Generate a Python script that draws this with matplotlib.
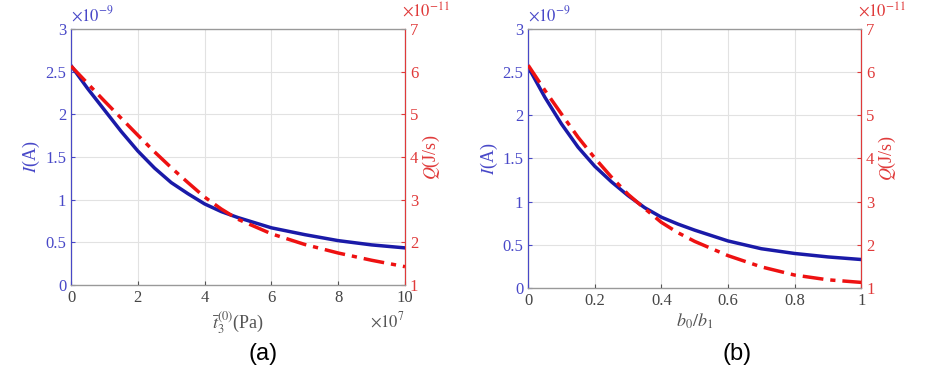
import numpy as np
import matplotlib.pyplot as plt

plt.rcParams['font.family'] = ['Liberation Serif', 'DejaVu Serif']
plt.rcParams['mathtext.fontset'] = 'stix'

# panel (a): x in 1e7 Pa, I in 1e-9 A, Q in 1e-11 J/s
xa = [0, 0.5, 1, 1.5, 2, 2.5, 3, 3.5, 4, 4.5, 5, 6, 7, 8, 9, 10]
Ia = [2.57, 2.30, 2.05, 1.80, 1.57, 1.37, 1.20, 1.07, 0.95, 0.86, 0.79,
      0.67, 0.59, 0.52, 0.47, 0.435]
Qa = [6.13, 5.72, 5.31, 4.91, 4.51, 4.12, 3.75, 3.40, 3.06, 2.78, 2.54,
      2.20, 1.95, 1.75, 1.58, 1.43]

# panel (b): x = b0/b1
xb = [0, 0.05, 0.1, 0.15, 0.2, 0.25, 0.3, 0.35, 0.4, 0.45, 0.5, 0.6, 0.7, 0.8, 0.9, 1.0]
Ib = [2.56, 2.21, 1.90, 1.63, 1.41, 1.23, 1.07, 0.93, 0.82, 0.74, 0.67,
      0.545, 0.455, 0.40, 0.36, 0.33]
Qb = [6.16, 5.58, 5.03, 4.49, 4.01, 3.57, 3.17, 2.84, 2.52, 2.28, 2.08,
      1.75, 1.49, 1.30, 1.19, 1.13]

blue = '#1a1aa8'
red = '#ee1111'
lblue = '#4848c8'
lred = '#e03a3a'

fig = plt.figure(figsize=(9.25, 3.69), dpi=100)


def panel(rect, x, I, Q, xlim, xticks, xticklabels, xlabel, tag, tagx, xexp=None):
    ax = fig.add_axes(rect)
    ax2 = ax.twinx()
    ax.plot(x, I, color=blue, lw=2.5, zorder=3)
    ax2.plot(x, Q, color=red, lw=2.5, ls=(0, (6, 2, 1.5, 2)), zorder=3)
    ax.set_xlim(xlim)
    ax.set_ylim(0, 3)
    ax2.set_ylim(1, 7)
    ax.set_xticks(xticks)
    ax.set_xticklabels(xticklabels)
    ax.set_yticks([0, 0.5, 1, 1.5, 2, 2.5, 3])
    ax.set_yticklabels(['0', '0.5', '1', '1.5', '2', '2.5', '3'])
    ax2.set_yticks([1, 2, 3, 4, 5, 6, 7])
    ax.grid(True, color='#e2e2e2', lw=0.8)
    ax.set_axisbelow(True)
    ax.tick_params(direction='in', labelsize=12, length=3)
    ax.tick_params(axis='x', colors='#555555', labelcolor='#444444')
    ax.tick_params(axis='y', colors=lblue, labelcolor=lblue)
    ax2.tick_params(direction='in', labelsize=12, length=3, colors=lred, labelcolor=lred)
    for s in ['top', 'bottom']:
        ax2.spines[s].set_color('#999999')
    ax2.spines['left'].set_color(lblue)
    ax2.spines['right'].set_color(lred)
    ax.set_ylabel('$I$(A)', color=lblue, fontsize=13, labelpad=2)
    ax2.set_ylabel('$Q$(J/s)', color=lred, fontsize=13, labelpad=2)
    ax.set_xlabel(xlabel, color='#555555', fontsize=13, labelpad=2)
    ax.text(0.0, 1.015, r'$\times10^{-9}$', transform=ax.transAxes, color=lblue,
            fontsize=12, ha='left', va='bottom')
    ax.text(0.99, 1.03, r'$\times10^{-11}$', transform=ax.transAxes, color=lred,
            fontsize=12, ha='left', va='bottom')
    if xexp:
        ax.text(1.0, -0.14, xexp, transform=ax.transAxes, color='#555555',
                fontsize=12, ha='right', va='center')
    fig.text(tagx, 0.04, tag, fontsize=17, family='Liberation Sans', ha='center', va='center')


panel([0.0768, 0.2276, 0.361, 0.694], xa, Ia, Qa, (0, 10), [0, 2, 4, 6, 8, 10],
      ['0', '2', '4', '6', '8', '10'], r'$\bar{t}_3^{(0)}$(Pa)', '(a)', 0.284,
      xexp=r'$\times10^{7}$')
panel([0.571, 0.2195, 0.360, 0.702], xb, Ib, Qb, (0, 1), [0, 0.2, 0.4, 0.6, 0.8, 1],
      ['0', '0.2', '0.4', '0.6', '0.8', '1'], r'$b_0/b_1$', '(b)', 0.797)

fig.savefig('out.png', dpi=100)
